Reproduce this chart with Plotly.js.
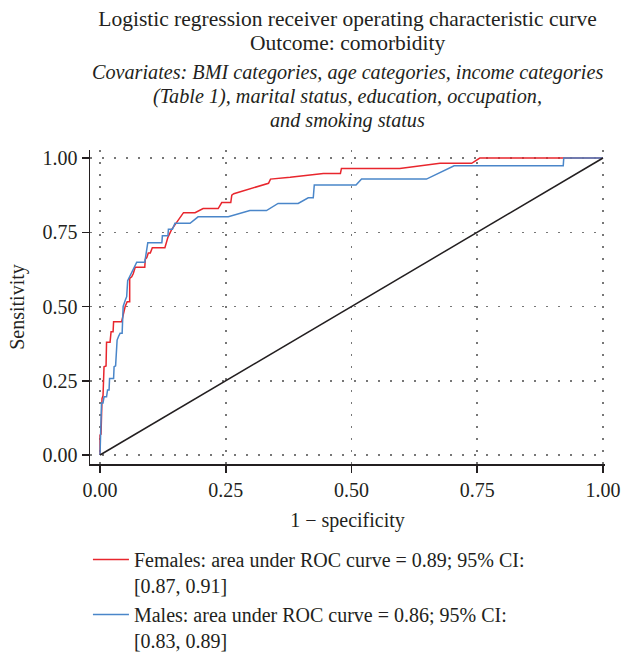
<!DOCTYPE html>
<html>
<head>
<meta charset="utf-8">
<script src="https://cdn.plot.ly/plotly-3.0.1.min.js"></script>
<style>html,body{margin:0;padding:0;background:#fff;}#chart{width:622px;height:654px;}</style>
</head>
<body>
<div id="chart"></div>
<script>
// Females ROC curve (1 - specificity, sensitivity)
const femalesFPR = [0,0,0.002,0.003,0.004,0.006,0.007,0.008,0.012,0.013,0.020,0.022,0.026,0.027,0.043,0.050,0.054,0.059,0.059,0.063,0.066,0.070,0.089,0.090,0.093,0.096,0.100,0.104,0.129,0.135,0.142,0.149,0.159,0.166,0.189,0.205,0.235,0.242,0.260,0.262,0.266,0.335,0.339,0.378,0.444,0.478,0.480,0.596,0.676,0.739,0.755,1];
const femalesTPR = [0,0.067,0.070,0.150,0.190,0.200,0.240,0.297,0.300,0.380,0.380,0.415,0.415,0.449,0.449,0.500,0.516,0.516,0.595,0.600,0.610,0.632,0.632,0.659,0.665,0.680,0.680,0.698,0.698,0.733,0.758,0.774,0.797,0.816,0.816,0.830,0.830,0.850,0.850,0.875,0.880,0.915,0.929,0.935,0.948,0.948,0.965,0.965,0.982,0.982,1,1];
// Males ROC curve
const malesFPR = [0,0.002,0.003,0.006,0.008,0.013,0.015,0.018,0.019,0.027,0.028,0.031,0.032,0.034,0.037,0.040,0.044,0.045,0.046,0.050,0.053,0.055,0.062,0.066,0.073,0.089,0.095,0.123,0.124,0.135,0.136,0.144,0.149,0.179,0.195,0.255,0.298,0.331,0.354,0.394,0.414,0.424,0.426,0.509,0.520,0.649,0.704,0.921,0.922,1];
const malesTPR = [0,0.100,0.175,0.175,0.196,0.196,0.219,0.219,0.258,0.258,0.297,0.300,0.342,0.387,0.400,0.410,0.410,0.455,0.500,0.520,0.533,0.587,0.611,0.628,0.649,0.649,0.715,0.715,0.738,0.738,0.760,0.760,0.780,0.780,0.802,0.802,0.823,0.823,0.847,0.847,0.866,0.866,0.909,0.909,0.929,0.929,0.974,0.974,1,1];
// Reference line
const refX = [0,1];
const refY = [0,1];
const tickVals = [0,0.25,0.5,0.75,1];
const tickText = ["0.00","0.25","0.50","0.75","1.00"];
const femalesName = "Females: area under ROC curve = 0.89; 95% CI:<br>[0.87, 0.91]";
const malesName = "Males: area under ROC curve = 0.86; 95% CI:<br>[0.83, 0.89]";
const titleLine1 = "Logistic regression receiver operating characteristic curve";
const titleLine2 = "Outcome: comorbidity";
const subtitleLines = [
  "Covariates: BMI categories, age categories, income categories",
  "(Table 1), marital status, education, occupation,",
  "and smoking status"
];

const serif = "Liberation Serif, Times New Roman, serif";
const txt = "#231f20";

// plot area geometry (pixels)
const T = 150, B = 190, H = 654 - T - B;
function paperY(py) { return (654 - B - py) / H; }

const traces = [
  {x: femalesFPR, y: femalesTPR, mode: "lines", name: femalesName, line: {color: "#e8262d", width: 1.5}},
  {x: malesFPR, y: malesTPR, mode: "lines", name: malesName, line: {color: "#4a86c9", width: 1.5}},
  {x: refX, y: refY, mode: "lines", showlegend: false, line: {color: "#231f20", width: 1.5}, hoverinfo: "skip"}
];

const axisCommon = {
  tickvals: tickVals, ticktext: tickText,
  ticks: "outside", ticklen: 7, tickwidth: 1.5, tickcolor: txt,
  showline: true, linecolor: txt, linewidth: 1.5,
  showgrid: true, gridcolor: "#777", gridwidth: 1.5, griddash: "1.5px,10.5px",
  zeroline: false, tickfont: {family: serif, size: 20, color: txt}
};

const annotations = [
  {text: titleLine2, y: paperY(43), font: {family: serif, size: 21.5, color: txt}},
  {text: "<i>" + subtitleLines[0] + "</i>", y: paperY(72), font: {family: serif, size: 20.2, color: txt}},
  {text: "<i>" + subtitleLines[1] + "</i>", y: paperY(97), font: {family: serif, size: 20.2, color: txt}},
  {text: "<i>" + subtitleLines[2] + "</i>", y: paperY(120), font: {family: serif, size: 20.2, color: txt}}
].map(a => Object.assign({xref: "paper", yref: "paper", x: 0.5, xanchor: "center", yanchor: "middle", showarrow: false}, a));

const layout = {
  width: 622, height: 654,
  margin: {l: 90, r: 17, t: T, b: B, autoexpand: false},
  paper_bgcolor: "#fff", plot_bgcolor: "#fff",
  font: {family: serif, color: txt},
  title: {
    text: titleLine1,
    font: {family: serif, size: 21.5, color: txt},
    x: 0.5, xref: "paper", xanchor: "center",
    y: 1 - 18/654, yref: "container", yanchor: "middle"
  },
  annotations: annotations,
  xaxis: Object.assign({}, axisCommon, {
    range: [-0.0199, 1.004],
    title: {text: "1 − specificity", font: {family: serif, size: 20, color: txt}, standoff: 13}
  }),
  yaxis: Object.assign({}, axisCommon, {
    range: [-0.0303, 1.027],
    title: {text: "Sensitivity", font: {family: serif, size: 20, color: txt}, standoff: 12}
  }),
  legend: {
    x: -0.004, xanchor: "left", y: paperY(540), yanchor: "top",
    font: {family: serif, size: 20, color: txt},
    itemwidth: 36, valign: "top", bgcolor: "rgba(0,0,0,0)"
  },
  showlegend: true
};

Plotly.newPlot("chart", traces, layout, {displayModeBar: false, staticPlot: true});
</script>
</body>
</html>
